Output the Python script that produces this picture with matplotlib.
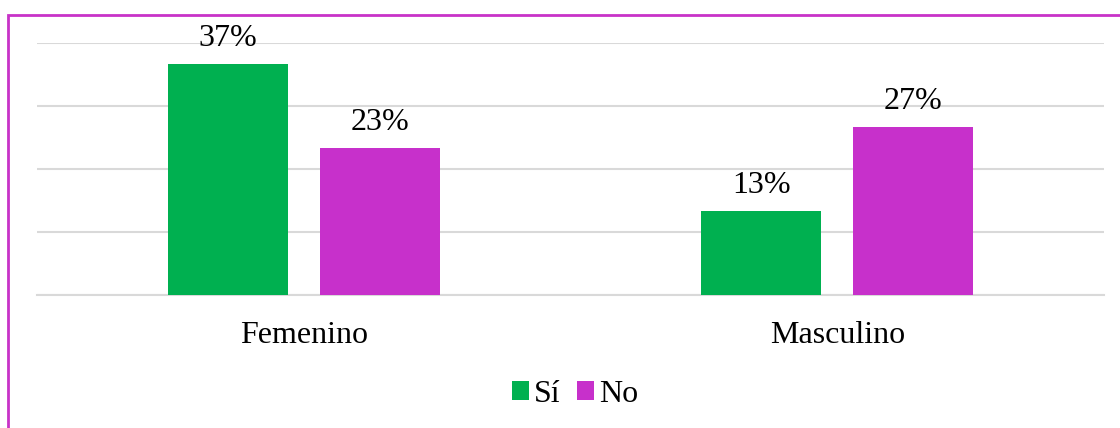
import numpy as np
import matplotlib.pyplot as plt
from matplotlib.patches import Rectangle

categories = ['Femenino', 'Masculino']
series_names = ['Sí', 'No']
si_values = [36.67, 13.33]
no_values = [23.33, 26.67]
colors = ['#00B050', '#C730CB']

plt.rcParams['font.family'] = ['Liberation Serif', 'DejaVu Serif']

fig = plt.figure(figsize=(11.2, 4.28), dpi=100)
ax = fig.add_axes([37 / 1120, 1 - 295 / 428, 1067 / 1120, 252 / 428])

x = np.arange(len(categories))
width = 0.225
offset = 0.1425
bars_si = ax.bar(x - offset, si_values, width, color=colors[0], label=series_names[0], zorder=3)
bars_no = ax.bar(x + offset, no_values, width, color=colors[1], label=series_names[1], zorder=3)

for bars in (bars_si, bars_no):
    for b in bars:
        ax.annotate(f'{round(b.get_height()):.0f}%', (b.get_x() + b.get_width() / 2, b.get_height()),
                    xytext=(0, 8), textcoords='offset points', ha='center', va='bottom',
                    fontsize=23)

ax.set_xlim(-0.5, 1.5)
ax.set_ylim(0, 40)
ax.set_yticks([0, 10, 20, 30, 40])
ax.yaxis.grid(True, color='#D9D9D9', linewidth=1.5, zorder=0)
ax.tick_params(axis='y', left=False, labelleft=False)
ax.tick_params(axis='x', length=0, pad=19, labelsize=23)
ax.set_xticks(x)
ax.set_xticklabels(categories)
for s in ['top', 'right', 'left']:
    ax.spines[s].set_visible(False)
ax.spines['bottom'].set_color('#D9D9D9')
ax.spines['bottom'].set_linewidth(1.5)

ax.legend(loc='center', bbox_to_anchor=(575 / 1120, 1 - 394 / 428), bbox_transform=fig.transFigure,
          ncol=2, frameon=False, fontsize=23, handlelength=0.55, handleheight=0.55,
          handletextpad=0.15, columnspacing=0.5)

fig.patches.append(Rectangle((8 / 1120, -0.1), 1.2, 1 - 15 / 428 + 0.1, transform=fig.transFigure,
                             fill=False, edgecolor='#C832C8', linewidth=2, zorder=10))

fig.savefig('out.png', dpi=100)
